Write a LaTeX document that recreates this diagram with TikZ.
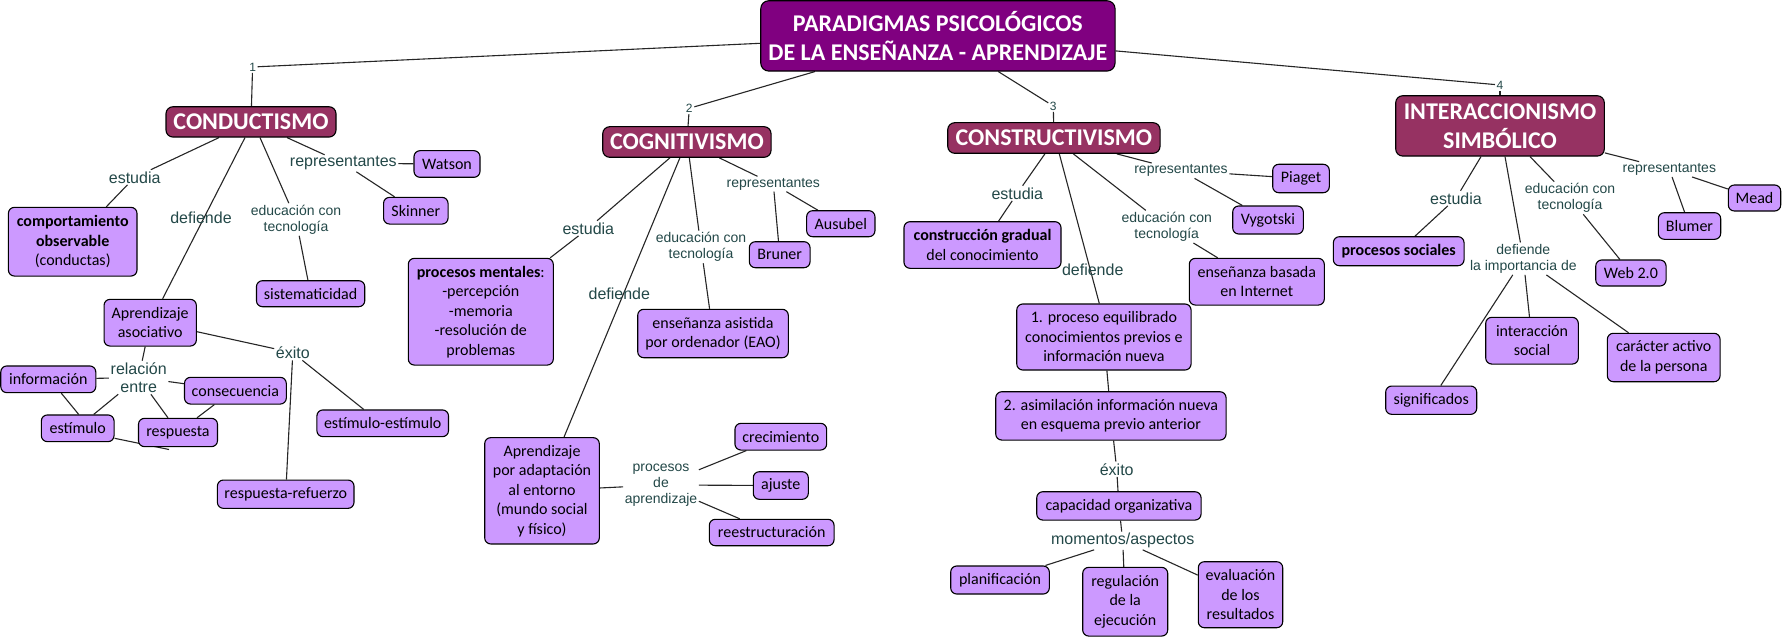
\documentclass[tikz,border=0pt]{standalone}
\usepackage{fontspec}
\setmainfont{Carlito}
\newfontfamily\lblfont{Liberation Sans}
\definecolor{boxfill}{RGB}{204,153,255}
\definecolor{catfill}{RGB}{150,50,98}
\definecolor{titfill}{RGB}{128,0,128}
\definecolor{lbl}{RGB}{35,72,72}
\pgfdeclarelayer{bg}
\pgfdeclarelayer{lines}
\pgfsetlayers{bg,lines,main}
\tikzset{
 cbox/.style={draw=black, line width=1.1pt, rounded corners=6pt, fill=boxfill, align=center, inner sep=0pt, font=\fontsize{16}{19.5}\selectfont},
 catbox/.style={draw=black, line width=1.1pt, rounded corners=7pt, fill=catfill, text=white, align=center, inner sep=0pt, font=\fontsize{24}{29.3}\selectfont\bfseries},
 biglbl/.style={text=lbl, align=center, inner sep=1.5pt, font=\lblfont\fontsize{16}{18.3}\selectfont},
 smalllbl/.style={text=lbl, align=center, inner sep=1.5pt, font=\lblfont\fontsize{14}{16}\selectfont},
 numlbl/.style={text=lbl, inner sep=1.5pt, font=\lblfont\fontsize{12}{14}\selectfont},
 conn/.style={draw=black!85, line width=1.1pt},
}
\begin{document}
\begin{tikzpicture}[x=1pt,y=-1pt]
\begin{pgfonlayer}{bg}
\fill[white] (0,0) rectangle (1784,639);
\end{pgfonlayer}
\useasboundingbox (0,0) rectangle (1784,639);

% title and categories
\node[catbox, fill=titfill, rounded corners=8pt, minimum width=354.3pt, minimum height=70.3pt] (title) at (937.9,35.9) {PARADIGMAS PSICOLÓGICOS\\DE LA ENSEÑANZA - APRENDIZAJE};
\node[catbox, minimum width=170pt, minimum height=30.3pt] (cond) at (251,121.9) {CONDUCTISMO};
\node[catbox, minimum width=168.3pt, minimum height=30.6pt] (cog) at (686.9,142) {COGNITIVISMO};
\node[catbox, minimum width=212.3pt, minimum height=30.6pt] (cons) at (1053.9,138) {CONSTRUCTIVISMO};
\node[catbox, minimum width=208.6pt, minimum height=60.3pt] (inter) at (1500,125.9) {INTERACCIONISMO\\SIMBÓLICO};

\node[numlbl] (n1) at (252.6,67) {1};
\node[numlbl] (n2) at (689.3,108.3) {2};
\node[numlbl] (n3) at (1053.3,106) {3};
\node[numlbl] (n4) at (1500,85) {4};

% conductismo
\node[cbox, minimum width=128.6pt, minimum height=68.7pt] (comp) at (72.7,241.7) {\textbf{comportamiento}\\\textbf{observable}\\(conductas)};
\node[cbox, minimum width=92.3pt, minimum height=46.7pt] (aa) at (150.2,322.7) {Aprendizaje\\asociativo};
\node[cbox, minimum width=108.3pt, minimum height=26pt] (sist) at (310.6,293.7) {sistematicidad};
\node[cbox, minimum width=66pt, minimum height=26.6pt] (wat) at (447,164) {Watson};
\node[cbox, minimum width=64.5pt, minimum height=26.7pt] (ski) at (415.8,210.7) {Skinner};
\node[cbox, minimum width=95pt, minimum height=26.7pt] (info) at (48.3,379.3) {información};
\node[cbox, minimum width=101.8pt, minimum height=26.7pt] (conse) at (235.4,390.7) {consecuencia};
\node[cbox, minimum width=72.7pt, minimum height=26.7pt] (estim) at (77.7,428.3) {estímulo};
\node[cbox, minimum width=79pt, minimum height=28.3pt] (resp) at (178,432.5) {respuesta};
\node[cbox, minimum width=131.6pt, minimum height=26.7pt] (ee) at (382.7,423.3) {estímulo-estímulo};
\node[cbox, minimum width=136.6pt, minimum height=28.3pt] (rr) at (285.7,494.2) {respuesta-refuerzo};

\node[biglbl] (est1) at (134.7,177.3) {estudia};
\node[biglbl] (def1) at (201,217.3) {defiende};
\node[smalllbl] (edu1) at (296,219.5) {educación con\\tecnología};
\node[biglbl] (rep1) at (343.3,163.3) {representantes};
\node[biglbl] (exi1) at (292.8,352.7) {éxito};
\node[biglbl] (rel1) at (138.7,377.5) {relación\\entre};

% cognitivismo
\node[cbox, minimum width=145pt, minimum height=106.7pt] (pm) at (480.8,311.7) {\textbf{procesos mentales}:\\-percepción\\-memoria\\-resolución de\\problemas};
\node[cbox, minimum width=114.6pt, minimum height=106.3pt] (apa) at (542,490.8) {Aprendizaje\\por adaptación\\al entorno\\(mundo social\\y físico)};
\node[cbox, minimum width=150.6pt, minimum height=48.4pt] (eao) at (713,333.5) {enseñanza asistida\\por ordenador (EAO)};
\node[cbox, minimum width=68.3pt, minimum height=26pt] (aus) at (840.8,223.7) {Ausubel};
\node[cbox, minimum width=60.7pt, minimum height=26pt] (bru) at (779.7,254.7) {Bruner};
\node[cbox, minimum width=91.7pt, minimum height=26.7pt] (crec) at (780.8,436.7) {crecimiento};
\node[cbox, minimum width=55pt, minimum height=27.6pt] (aju) at (780.8,485.5) {ajuste};
\node[cbox, minimum width=124.7pt, minimum height=26.4pt] (rees) at (771.7,532.5) {reestructuración};

\node[biglbl] (est2) at (588.3,228.3) {estudia};
\node[biglbl] (def2) at (619.3,293.3) {defiende};
\node[smalllbl] (edu2) at (701,247) {educación con\\tecnología};
\node[smalllbl] (rep2) at (773.3,184) {representantes};
\node[smalllbl] (proc2) at (661,485) {procesos\\de\\aprendizaje};

% constructivismo
\node[cbox, minimum width=157pt, minimum height=46.6pt] (cg) at (982.5,245) {\textbf{construcción gradual}\\del conocimiento};
\node[cbox, minimum width=174.3pt, minimum height=66pt] (p1) at (1103.9,337) {1. proceso equilibrado\\conocimientos previos e\\información nueva};
\node[cbox, minimum width=135pt, minimum height=46.7pt] (ebi) at (1256.8,281.7) {enseñanza basada\\en Internet};
\node[cbox, minimum width=56.6pt, minimum height=28.4pt] (pia) at (1301,178.5) {Piaget};
\node[cbox, minimum width=70.6pt, minimum height=28pt] (vyg) at (1268,220) {Vygotski};
\node[cbox, minimum width=230.3pt, minimum height=48.3pt] (p2) at (1110.9,415.9) {2. asimilación información nueva\\en esquema previo anterior};
\node[cbox, minimum width=164.3pt, minimum height=28.3pt] (cap) at (1118.9,505.9) {capacidad organizativa};
\node[cbox, minimum width=98.6pt, minimum height=28pt] (plan) at (1000,580) {planificación};
\node[cbox, minimum width=85pt, minimum height=68.7pt] (reg) at (1125.2,601.7) {regulación\\de la\\ejecución};
\node[cbox, minimum width=84.4pt, minimum height=66pt] (eva) at (1240.5,594.7) {evaluación\\de los\\resultados};

\node[biglbl] (est3) at (1017.3,193.3) {estudia};
\node[biglbl] (def3) at (1092.7,270) {defiende};
\node[smalllbl] (edu3) at (1166.7,226.7) {educación con\\tecnología};
\node[smalllbl] (rep3) at (1181,170.7) {representantes};
\node[biglbl] (exi3) at (1116.7,469.3) {éxito};
\node[biglbl] (mom3) at (1122.7,540.7) {momentos/aspectos};

% interaccionismo
\node[cbox, minimum width=130.7pt, minimum height=29pt] (ps) at (1398.7,251.2) {\textbf{procesos sociales}};
\node[cbox, minimum width=91pt, minimum height=28.3pt] (sig) at (1431.2,400.2) {significados};
\node[cbox, minimum width=92.6pt, minimum height=46.7pt] (isoc) at (1532,340.7) {interacción\\social};
\node[cbox, minimum width=112.7pt, minimum height=48.4pt] (car) at (1663.7,357.5) {carácter activo\\de la persona};
\node[cbox, minimum width=70.3pt, minimum height=26pt] (web) at (1630.9,273) {Web 2.0};
\node[cbox, minimum width=52.4pt, minimum height=26pt] (mead) at (1754.5,198) {Mead};
\node[cbox, minimum width=62.4pt, minimum height=26.6pt] (blu) at (1689.5,226) {Blumer};

\node[biglbl] (est4) at (1456,198.3) {estudia};
\node[smalllbl] (def4) at (1523.3,258.7) {defiende\\la importancia de};
\node[smalllbl] (edu4) at (1570,198) {educación con\\tecnología};
\node[smalllbl] (rep4) at (1669.3,169.3) {representantes};

\coordinate (loose) at (169,449.5);

\begin{pgfonlayer}{lines}
\draw[conn] ([yshift=-7.4pt]title.west) -- (n1);
\draw[conn] (n1) -- (cond);
\draw[conn] ([xshift=-123pt]title.south) -- (n2);
\draw[conn] (n2) -- (cog);
\draw[conn] ([xshift=60.4pt]title.south) -- (n3);
\draw[conn] (n3) -- (cons);
\draw[conn] ([yshift=-15pt]title.east) -- (n4);
\draw[conn] (n4) -- (inter);
% conductismo
\draw[conn] ([xshift=-32pt]cond.south) -- (est1);
\draw[conn] (est1) -- (comp);
\draw[conn] ([xshift=-6pt]cond.south) -- ([xshift=12.4pt]aa.north);
\draw[conn] ([xshift=9pt]cond.south) -- (edu1);
\draw[conn] (edu1) -- (sist);
\draw[conn] ([xshift=36pt]cond.south) -- (rep1);
\draw[conn] (rep1) -- (wat);
\draw[conn] (rep1) -- (ski);
\draw[conn] ([yshift=-9pt]aa.east) -- (exi1);
\draw[conn] (exi1) -- (rr);
\draw[conn] (exi1) -- ([xshift=-19pt]ee.north);
\draw[conn] (aa) -- (rel1);
\draw[conn] (info) -- (rel1);
\draw[conn] (rel1) -- (conse);
\draw[conn] ([xshift=13pt]info.south) -- ([xshift=1pt]estim.north);
\draw[conn] (rel1) -- ([xshift=16pt]estim.north);
\draw[conn] (rel1) -- ([xshift=-10pt]resp.north);
\draw[conn] ([xshift=-21pt]conse.south) -- ([xshift=19pt]resp.north);
\draw[conn] ([yshift=-10pt]estim.east) -- (loose);
% cognitivismo
\draw[conn] ([xshift=-17pt]cog.south) -- (est2);
\draw[conn] (est2) -- (pm);
\draw[conn] ([xshift=-7pt]cog.south) -- ([xshift=22pt]apa.north);
\draw[conn] ([xshift=2.4pt]cog.south) -- (edu2);
\draw[conn] (edu2) -- (eao);
\draw[conn] ([xshift=32.4pt]cog.south) -- (rep2);
\draw[conn] (rep2) -- (bru);
\draw[conn] (rep2) -- (aus);
\draw[conn] (apa) -- (proc2);
\draw[conn] (proc2) -- (crec);
\draw[conn] (proc2) -- (aju);
\draw[conn] (proc2) -- (rees);
% constructivismo
\draw[conn] ([xshift=-9pt]cons.south) -- (est3);
\draw[conn] (est3) -- (cg);
\draw[conn] ([xshift=5.4pt]cons.south) -- ([xshift=-4.6pt]p1.north);
\draw[conn] ([xshift=19.4pt]cons.south) -- (edu3);
\draw[conn] (edu3) -- (ebi);
\draw[conn] ([xshift=62.8pt]cons.south) -- (rep3);
\draw[conn] (rep3) -- (pia);
\draw[conn] (rep3) -- (vyg);
\draw[conn] (p1) -- (p2);
\draw[conn] (p2) -- (exi3);
\draw[conn] (exi3) -- (cap);
\draw[conn] (cap) -- (mom3);
\draw[conn] (mom3) -- (plan);
\draw[conn] (mom3) -- (reg);
\draw[conn] (mom3) -- (eva);
% interaccionismo
\draw[conn] ([xshift=-19pt]inter.south) -- (est4);
\draw[conn] (est4) -- (ps);
\draw[conn] ([xshift=5pt]inter.south) -- (def4);
\draw[conn] (def4) -- (sig);
\draw[conn] (def4) -- (isoc);
\draw[conn] (def4) -- (car);
\draw[conn] ([xshift=30pt]inter.south) -- (edu4);
\draw[conn] (edu4) -- (web);
\draw[conn] ([yshift=-27pt]inter.east) -- (rep4);
\draw[conn] (rep4) -- (mead);
\draw[conn] (rep4) -- (blu);
\end{pgfonlayer}
\end{tikzpicture}
\end{document}
